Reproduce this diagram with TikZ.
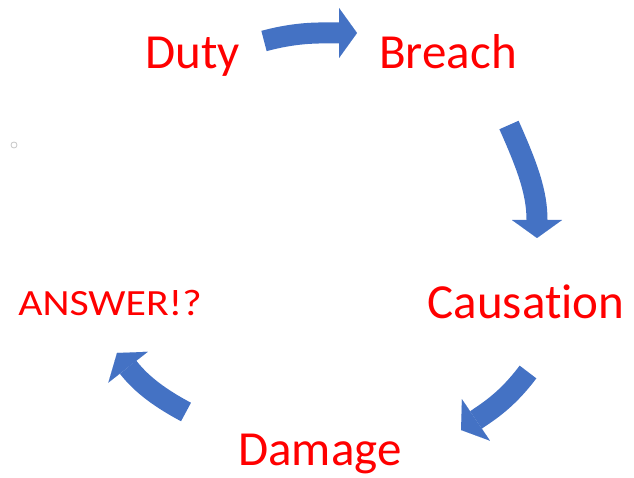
\documentclass[tikz,border=0pt]{standalone}
\usepackage{fontspec}
\setmainfont[Ligatures=NoCommon]{Carlito}
\newfontfamily\widefont[FakeStretch=1.13,Ligatures=NoCommon]{Carlito}
\usetikzlibrary{arrows.meta, positioning}
\definecolor{cycleblue}{HTML}{4472C4}
\definecolor{cyclered}{HTML}{FF0000}
\tikzset{
  term/.style={text=cyclered,inner sep=0pt,anchor=base,font=\fontsize{49}{58}\selectfont},
  termsmall/.style={term,font=\widefont\fontsize{37}{44}\selectfont},
  flow/.style={draw=cycleblue,line width=21pt,-{Triangle[length=18pt,width=50pt,line width=0.01pt]}},
  dot/.style={draw=gray!45,line width=0.8pt,inner sep=0pt,minimum size=6pt,circle},
}

\begin{document}
\begin{tikzpicture}[x=1pt,y=1pt]
	\useasboundingbox (0,0) rectangle (634,477);
	% the five stages
	\node[term] (duty) at (192.5,408) {Duty};
	\node[term] (breach) at (448,408) {Breach};
	\node[term] (causation) at (526,159) {Causat\kern0pt ion};
	\node[term] (damage) at (320,12) {Damage};
	\node[termsmall] (answer) at (110,162) {ANSWER!?};
	\node[dot] (mark) at (14,332) {};
	% arrow ends
	\coordinate (duty-out) at (264,436);
	\coordinate (breach-in) at (357,444);
	\coordinate (breach-out) at (509,352);
	\coordinate (causation-in) at (537,239);
	\coordinate (causation-out) at (528,105);
	\coordinate (damage-in) at (461,47);
	\coordinate (damage-out) at (186,65);
	\coordinate (answer-in) at (117,124);
	\draw[flow] (duty-out) to[out=15,in=180] (breach-in);
	\draw[flow] (breach-out) to[out=-66,in=90] (causation-in);
	\draw[flow] (causation-out) to[out=-127,in=34] (damage-in);
	\draw[flow] (damage-out) to[out=152,in=-52] (answer-in);
\end{tikzpicture}
\end{document}
